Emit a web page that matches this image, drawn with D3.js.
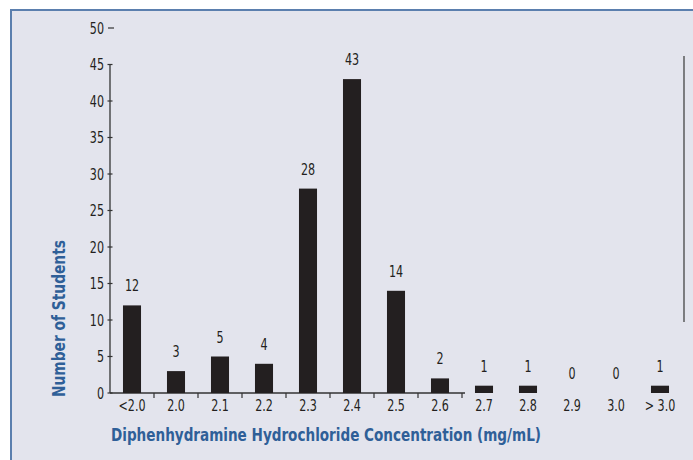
<!DOCTYPE html>
<html>
<head>
<meta charset="utf-8">
<script src="https://cdn.jsdelivr.net/npm/d3@7"></script>
<style>
  html, body { margin: 0; padding: 0; background: #fff; }
  svg { display: block; }
  text { font-family: "DejaVu Sans Condensed", "Liberation Sans Narrow", "Arial Narrow", sans-serif; }
</style>
</head>
<body>
<div id="chart"></div>
<script>
// categories + counts
const categories = ['<2.0', '2.0', '2.1', '2.2', '2.3', '2.4', '2.5', '2.6', '2.7', '2.8', '2.9', '3.0', '> 3.0'];
const counts = [12, 3, 5, 4, 28, 43, 14, 2, 1, 1, 0, 0, 1];
const yTicks = [0, 5, 10, 15, 20, 25, 30, 35, 40, 45, 50];

const yTitle = 'Number of Students';
const xTitle = 'Diphenhydramine Hydrochloride Concentration (mg/mL)';

const width = 693;
const height = 460;
const blue = '#2f5f98';
const ink = '#231f20';
const squeeze = 0.8; // fake a narrower face than what's installed

const svg = d3.select('#chart').append('svg')
  .attr('width', width)
  .attr('height', height);

// panel background + border (top and left)
svg.append('rect')
  .attr('x', 10).attr('y', 9)
  .attr('width', width - 10).attr('height', height - 9)
  .attr('fill', '#e3e4ed');
svg.append('path')
  .attr('d', `M${width},10 H11 V${height}`)
  .attr('fill', 'none')
  .attr('stroke', '#5b7fae')
  .attr('stroke-width', 2);

const data = categories.map((c, i) => ({ cat: c, n: counts[i] }));

const x = d3.scaleBand()
  .domain(categories)
  .range([110, 682])
  .paddingInner(0.59)
  .paddingOuter(0.295);

const y = d3.scaleLinear()
  .domain([0, 50])
  .range([393, 28]);

const cx = d => x(d) + x.bandwidth() / 2;

// small helper: squeezed text placed at (px, py)
function label(sel, px, py) {
  return sel
    .attr('transform', (d, i) => `translate(${px(d, i)},${py(d, i)}) scale(${squeeze},1)`)
    .attr('font-size', 15.5)
    .attr('fill', ink);
}

// y axis line stops at 45, the 50 only has a dash
svg.append('line')
  .attr('x1', 110).attr('x2', 110)
  .attr('y1', y(45)).attr('y2', y(0))
  .attr('stroke', '#333').attr('stroke-width', 1.3);

const yt = svg.append('g').selectAll('g')
  .data(yTicks)
  .join('g');
yt.append('line')
  .attr('x1', d => d === 50 ? 108 : 107.5)
  .attr('x2', d => d === 50 ? 114 : 112.5)
  .attr('y1', d => y(d)).attr('y2', d => y(d))
  .attr('stroke', '#333').attr('stroke-width', 1.2);
yt.append('text')
  .call(label, () => 104, d => y(d))
  .attr('dy', '0.36em')
  .attr('text-anchor', 'end')
  .text(d => d);

// baseline + category ticks
svg.append('line')
  .attr('x1', 110).attr('x2', 465)
  .attr('y1', y(0)).attr('y2', y(0))
  .attr('stroke', '#333').attr('stroke-width', 1.3);

const step = x.step();
svg.append('g').selectAll('line')
  .data(categories.slice(0, 8))
  .join('line')
  .attr('x1', d => cx(d) + step / 2)
  .attr('x2', d => cx(d) + step / 2)
  .attr('y1', y(0))
  .attr('y2', y(0) + 5)
  .attr('stroke', '#333').attr('stroke-width', 1.2);

// bars
svg.append('g').selectAll('rect')
  .data(data)
  .join('rect')
  .attr('x', d => x(d.cat))
  .attr('width', x.bandwidth())
  .attr('y', d => y(d.n))
  .attr('height', d => y(0) - y(d.n))
  .attr('fill', ink);

// value labels
svg.append('g').selectAll('text')
  .data(data)
  .join('text')
  .call(label, d => cx(d.cat), d => y(d.n) - 14)
  .attr('text-anchor', 'middle')
  .text(d => d.n);

// category labels
svg.append('g').selectAll('text')
  .data(categories)
  .join('text')
  .call(label, d => cx(d), () => 411)
  .attr('text-anchor', 'middle')
  .text(d => d);

// leftover right-hand rule from the scan
svg.append('line')
  .attr('x1', 684).attr('x2', 684)
  .attr('y1', 56).attr('y2', 322)
  .attr('stroke', '#444').attr('stroke-width', 1.3);

// titles
svg.append('text')
  .attr('transform', `translate(65,318.5) rotate(-90)`)
  .attr('x', -78.5)
  .attr('font-size', 17.5)
  .attr('font-weight', 'bold')
  .attr('fill', blue)
  .attr('textLength', 157)
  .attr('lengthAdjust', 'spacingAndGlyphs')
  .text(yTitle);

svg.append('text')
  .attr('x', 111)
  .attr('y', 441)
  .attr('font-size', 18)
  .attr('font-weight', 'bold')
  .attr('fill', blue)
  .attr('textLength', 430)
  .attr('lengthAdjust', 'spacingAndGlyphs')
  .text(xTitle);
</script>
</body>
</html>
